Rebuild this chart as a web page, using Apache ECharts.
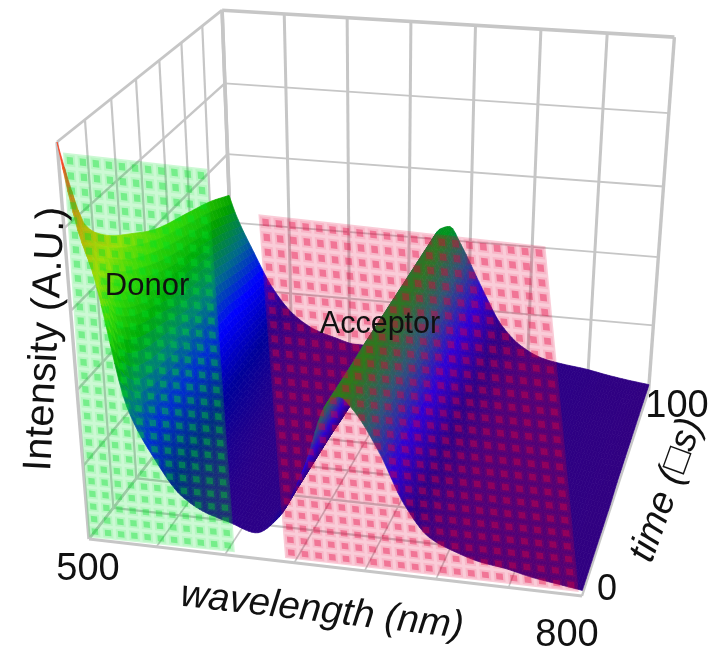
<!DOCTYPE html>
<html><head><meta charset="utf-8">
<style>html,body{margin:0;padding:0;background:#fff}#c{width:710px;height:653px}</style>
<script src="https://cdn.jsdelivr.net/npm/echarts@6/dist/echarts.min.js"></script>
</head><body><div id="c"></div>
<script>
// ---- data ----
const wavelengths = [500,504,508,515,530,545,560,575,590,605,620,635,650,657,665,680,695,710,725,740,755,770,785,800];
const times = [0,5,10,20,35,50,70,85,100];
const intensity_t0   = [100,89,80,70,37,24,15,11,9,7,12,25,43,45,42,32,19,11,8,6,5,3.5,2.5,1.5];
const intensity_t5   = [87,79,71,61,33,21,13,10,8,7,12,26,43,45,42,31,19,11,8,6,5,3.5,2.5,1.5];
const intensity_t10  = [77,71,64,55,30,19,12,9,8,6.5,12,26,43,45,41,31,18,11,8,6,5,3.5,2.5,1.5];
const intensity_t20  = [70,64,58,50,28,18,12,9,7.5,6.5,12,26,43,45,41,30,18,11,8,6,4.5,3.5,2.5,1.5];
const intensity_t35  = [64,58,53,46,27,17,11,8.5,7,6.5,12,26,43,44,41,30,18,10.5,7.5,6,4.5,3.5,2.5,1.5];
const intensity_t50  = [59,54,49,42,25,16,11,8,7,6,11.5,26,43,44,40,29,17,10.5,7.5,6,4.5,3.5,2.5,2];
const intensity_t70  = [55,50,46,39,24,15,10,8,6.5,6,11.5,26,43,44,40,28,17,10,7,5.5,4.5,3.5,2.5,2];
const intensity_t85  = [52,47,43,36,22,14,10,7.5,6.5,6,11,26,43,44,39,28,16,10,7,5.5,4.8,3.5,2.5,2];
const intensity_t100 = [48,43,39,33,21,13.5,9.5,7.5,6,6,11,27,43,44,39,27,16,10,7,5.8,5,3.8,2.8,2];
const intensityRows = [intensity_t0,intensity_t5,intensity_t10,intensity_t20,intensity_t35,intensity_t50,intensity_t70,intensity_t85,intensity_t100];
const wavelengthGrid = [500,542.86,585.71,628.57,671.43,714.29,757.14,800];
const timeGrid = [0,14.29,28.57,42.86,57.14,71.43,85.71,100];
const intensityGrid = [0,20,40,60,80,100];
const wavelengthTickLabels = ['500','800'];
const timeTickLabels = ['0','100'];
// bands: [wavelength, intensity] corners bottom-left, bottom-right, top-right, top-left
const donorBandCorners = [[500,0.5],[592,1],[585,96.5],[503,97.7]];
const acceptorBandCorners = [[623,1],[798,1],[770,85],[613,87]];

// ---- view: perspective projection of the box ----
const P0=[89,539], PX=[582,596], PY=[235,352], PZ=[57,142];
const G=-0.049, H=0.2, I=-0.1;
function project(l,t,v){
  const x=(l-500)/300, y=t/100, z=v/100;
  const d=1+G*x+H*y+I*z;
  return [0,1].map(k=>(P0[k]+x*((1+G)*PX[k]-P0[k])+y*((1+H)*PY[k]-P0[k])+z*((1+I)*PZ[k]-P0[k]))/d);
}
const colorStops=[[0,'#32007f'],[0.08,'#2a0088'],[0.16,'#00009a'],[0.26,'#0000ff'],[0.36,'#006a8a'],[0.46,'#00a000'],[0.56,'#40d800'],[0.66,'#c0e000'],[0.78,'#e8a800'],[0.9,'#f06020'],[1,'#ff2030']];
function colorOf(v){
  const z=v/100;
  for(let i=1;i<colorStops.length;i++){
    if(z<=colorStops[i][0]){
      const a=colorStops[i-1],b=colorStops[i];
      return echarts.color.lerp((z-a[0])/(b[0]-a[0]),[a[1],b[1]]);
    }
  }
  return colorStops[colorStops.length-1][1];
}

// monotone cubic curve through the read values (same idea as a smoothed line)
function monotone(xs,ys){
  const n=xs.length,dl=[],m=new Array(n);
  for(let i=0;i<n-1;i++)dl[i]=(ys[i+1]-ys[i])/(xs[i+1]-xs[i]);
  m[0]=dl[0];m[n-1]=dl[n-2];
  for(let i=1;i<n-1;i++){
    if(dl[i-1]*dl[i]<=0)m[i]=0;
    else{const w1=2*(xs[i+1]-xs[i])+(xs[i]-xs[i-1]),w2=(xs[i+1]-xs[i])+2*(xs[i]-xs[i-1]);
      m[i]=(w1+w2)/(w1/dl[i-1]+w2/dl[i]);}
  }
  return q=>{
    let i=0;while(i<n-2&&q>xs[i+1])i++;
    const h=xs[i+1]-xs[i],s=(q-xs[i])/h,s2=s*s,s3=s2*s;
    return (2*s3-3*s2+1)*ys[i]+(s3-2*s2+s)*h*m[i]+(-2*s3+3*s2)*ys[i+1]+(s3-s2)*h*m[i+1];
  };
}
// ---- surface mesh, back to front ----
const meshL=[];
for(let c=0;c<wavelengths.length-1;c++){
  const nl=Math.ceil((wavelengths[c+1]-wavelengths[c])/2);
  for(let s=0;s<nl;s++)meshL.push(wavelengths[c]+(wavelengths[c+1]-wavelengths[c])*s/nl);
}
meshL.push(800);
const meshT=[];
for(let r=0;r<times.length-1;r++){
  const nt=Math.ceil((times[r+1]-times[r])/2.5);
  for(let s=0;s<nt;s++)meshT.push(times[r]+(times[r+1]-times[r])*s/nt);
}
meshT.push(100);
const rowCurves=intensityRows.map(r=>monotone(wavelengths,r));
const heightByL=meshL.map(l=>monotone(times,rowCurves.map(f=>f(l))));
const meshV=meshT.map(t=>heightByL.map(f=>f(t)));
const meshItems=[];
for(let r=meshT.length-2;r>=0;r--){
  for(let c=0;c<meshL.length-1;c++){
    meshItems.push([meshL[c],meshL[c+1],meshT[r],meshT[r+1],meshV[r][c],meshV[r][c+1],meshV[r+1][c+1],meshV[r+1][c]]);
  }
}
function renderMesh(p,api){
  const l0=api.value(0),l1=api.value(1),t0=api.value(2),t1=api.value(3);
  const v=[api.value(4),api.value(5),api.value(6),api.value(7)];
  const pts=[[l0,t0,v[0]],[l1,t0,v[1]],[l1,t1,v[2]],[l0,t1,v[3]]].map(a=>api.coord(project(a[0],a[1],a[2])));
  const col=colorOf((v[0]+v[1]+v[2]+v[3])/4);
  return {type:'polygon',shape:{points:pts},style:{fill:col,stroke:col,lineWidth:0.7}};
}

// ---- box grid lines ----
const gridLines=[];
const GREY='#c6c6c6';
const seg=(a,b,w)=>gridLines.push([...a,...b,w]);
wavelengthGrid.forEach((l,i)=>{
  const edge=(i===0||i===wavelengthGrid.length-1);
  seg([l,100,0],[l,100,100],edge?3.4:3);
  seg([l,0,0],[l,100,0],edge?2.4:1.6);
});
timeGrid.forEach((t,i)=>{
  seg([500,t,0],[500,t,100],i===0?3.4:(t===100?3.6:2.2));
  seg([500,t,0],[800,t,0],i===0?3:2.2);
});
intensityGrid.forEach(v=>{
  const top=v===100;
  seg([500,100,v],[800,100,v],top?3.6:1.8);
  seg([500,0,v],[500,100,v],top?2.8:2.4);
});
function renderLine(p,api){
  const a=api.coord(project(api.value(0),api.value(1),api.value(2)));
  const b=api.coord(project(api.value(3),api.value(4),api.value(5)));
  return {type:'line',shape:{x1:a[0],y1:a[1],x2:b[0],y2:b[1]},style:{stroke:GREY,lineWidth:api.value(6)}};
}

// ---- translucent spectral bands with their dot pattern ----
const bands=[donorBandCorners,acceptorBandCorners];
const bandColors=['0,225,40','230,0,60'];
const bandItems=[];
function addBand(idx,cols,rows){
  bandItems.push([0,1,0,1,idx,0.2]);
  for(let i=0;i<cols;i++)for(let j=0;j<rows;j++){
    const u=(i+0.5)/cols,w=(j+0.5)/rows,hu=0.5/cols,hw=0.5/rows;
    bandItems.push([u-hu*0.78,u+hu*0.78,w-hw*0.78,w+hw*0.78,idx,0.1]);
    bandItems.push([u-hu*0.48,u+hu*0.48,w-hw*0.48,w+hw*0.48,idx,0.36]);
  }
}
addBand(0,11,28);
addBand(1,21,25);
function bandPoint(c,u,w){
  const bl=[c[0][0]*(1-u)+c[1][0]*u,c[0][1]*(1-u)+c[1][1]*u];
  const tl=[c[3][0]*(1-u)+c[2][0]*u,c[3][1]*(1-u)+c[2][1]*u];
  return project(bl[0]*(1-w)+tl[0]*w,0,bl[1]*(1-w)+tl[1]*w);
}
function renderBand(p,api){
  const u0=api.value(0),u1=api.value(1),w0=api.value(2),w1=api.value(3),c=bands[api.value(4)];
  const pts=[[u0,w0],[u1,w0],[u1,w1],[u0,w1]].map(a=>api.coord(bandPoint(c,a[0],a[1])));
  return {type:'polygon',shape:{points:pts},style:{fill:'rgba('+bandColors[api.value(4)]+','+api.value(5)+')'}};
}

const FONT='"Liberation Sans",Helvetica,Arial,sans-serif';
const label=(text,x,y,size,rot,italic)=>({type:'text',x,y,rotation:rot*Math.PI/180,
  style:{text,font:(italic?'italic ':'')+size+'px '+FONT,fill:'#111',textAlign:'center',textVerticalAlign:'middle'},z:50});

const chart=echarts.init(document.getElementById('c'),null,{renderer:'canvas'});
chart.setOption({
  animation:false,
  backgroundColor:'#fff',
  grid:{left:0,right:0,top:0,bottom:0},
  xAxis:{type:'value',min:0,max:710,show:false},
  yAxis:{type:'value',min:0,max:653,inverse:true,show:false},
  series:[
    {type:'custom',coordinateSystem:'cartesian2d',data:gridLines,renderItem:renderLine,silent:true,progressive:0,clip:false,z:1},
    {type:'custom',coordinateSystem:'cartesian2d',data:meshItems,renderItem:renderMesh,silent:true,progressive:0,clip:false,z:2},
    {type:'custom',coordinateSystem:'cartesian2d',data:bandItems,renderItem:renderBand,silent:true,progressive:0,clip:false,z:3}
  ],
  graphic:[
    label('Intensity (A.U.)',46,339,40,87,false),
    label('wavelength (nm)',322,611,38.5,-6.5,true),
    label('time (\u25A1s)',667,490,38,70,true),
    label(wavelengthTickLabels[0],88,570,38,0,false),
    label(wavelengthTickLabels[1],567,636,38,0,false),
    label(timeTickLabels[0],607,590,36,0,false),
    label(timeTickLabels[1],677,407,38,0,false),
    label('Donor',147,286,31,0,false),
    label('Acceptor',380,325,30.5,0,false)
  ]
});
</script></body></html>
